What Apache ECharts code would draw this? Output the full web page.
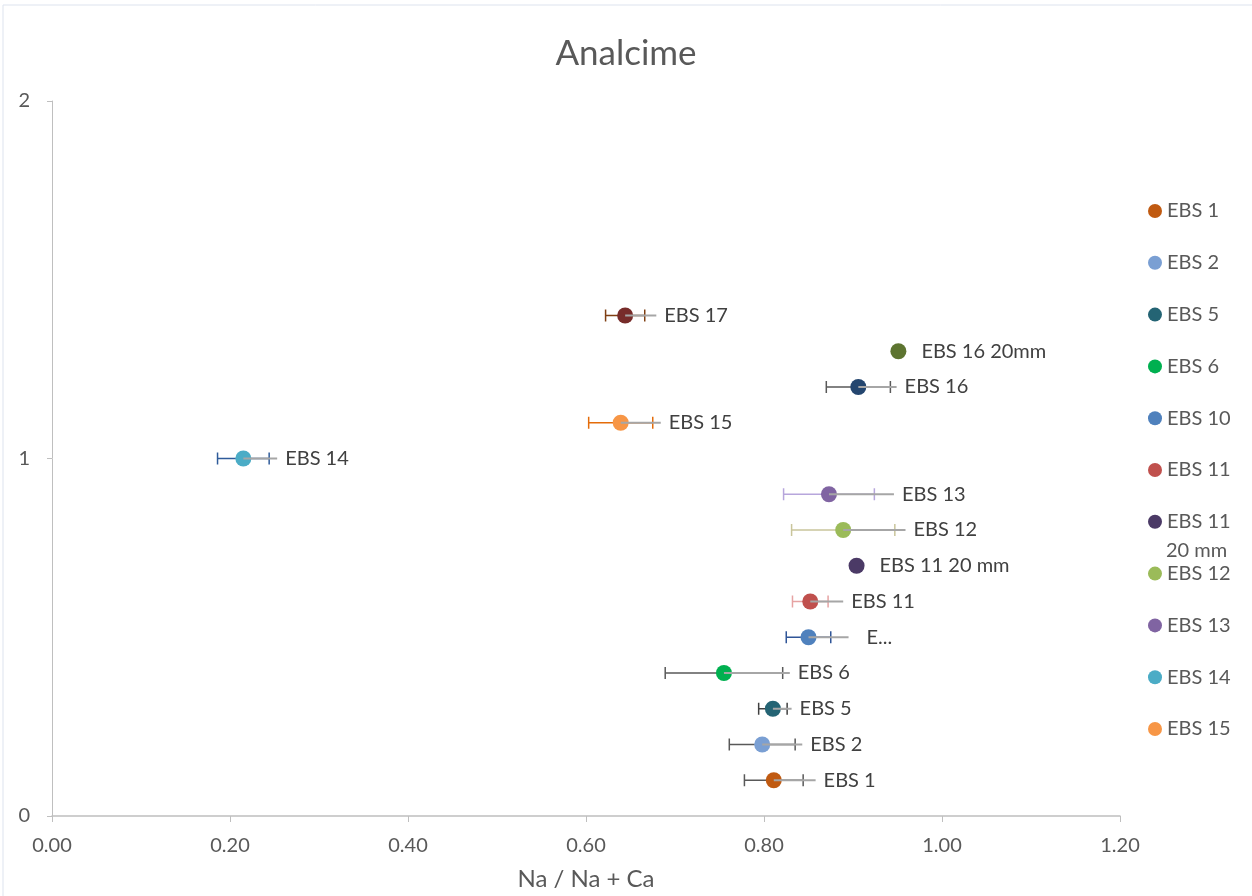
<!DOCTYPE html>
<html>
<head>
<meta charset="utf-8">
<script src="https://cdn.jsdelivr.net/npm/echarts@6/dist/echarts.min.js"></script>
<style>
  html, body { margin: 0; padding: 0; background: #fff; }
  #chart { width: 1252px; height: 896px; }
</style>
</head>
<body>
<div id="chart"></div>
<script>
// sample names, in plotting order (bottom to top)
const names = ['EBS 1', 'EBS 2', 'EBS 5', 'EBS 6', 'EBS 10', 'EBS 11', 'EBS 11 20 mm',
  'EBS 12', 'EBS 13', 'EBS 14', 'EBS 15', 'EBS 16', 'EBS 16 20mm', 'EBS 17'];
const xValues = [0.811, 0.798, 0.810, 0.755, 0.850, 0.852, 0.904, 0.889, 0.873, 0.215, 0.639, 0.906, 0.951, 0.644];
const yValues = [0.1, 0.2, 0.3, 0.4, 0.5, 0.6, 0.7, 0.8, 0.9, 1.0, 1.1, 1.2, 1.3, 1.4];
// symmetric error (coloured bar) and extra plus error (grey bar); 0 = none
const errHalf = [0.033, 0.037, 0.016, 0.066, 0.025, 0.020, 0, 0.058, 0.051, 0.029, 0.036, 0.036, 0, 0.022];
const errPlus = [0.047, 0.045, 0.021, 0.074, 0.045, 0.037, 0, 0.070, 0.073, 0.038, 0.045, 0.043, 0, 0.035];
const xTicks = [0, 0.2, 0.4, 0.6, 0.8, 1.0, 1.2];
const yTicks = [0, 1, 2];
const legendNames = names.slice(0, 11);

const markerColors = ['#c05a11', '#7a9fd3', '#246474', '#00b050', '#4f81bd', '#c0504d', '#4b3a66',
  '#9bbb59', '#8064a2', '#4bacc6', '#f79646', '#24466f', '#5d7430', '#772c2a'];
const barColors = ['#595959', '#595959', '#404040', '#595959', '#2f5597', '#e6a3a3', null,
  '#c9c59b', '#b7a6dc', '#2f5b9a', '#e46c0a', '#595959', null, '#7f3f12'];
const labelText = names.map(n => n === 'EBS 10' ? 'E...' : n);

const FONT = 'Lato, "Liberation Sans", sans-serif';
const chart = echarts.init(document.getElementById('chart'));

const errData = names.map((n, i) => [xValues[i], yValues[i], errHalf[i], errPlus[i], i]);

const scatterSeries = names.map((n, i) => ({
  name: n,
  type: 'scatter',
  symbolSize: 16,
  z: 3,
  itemStyle: { color: markerColors[i], opacity: 1 },
  data: [[xValues[i], yValues[i]]]
}));

const colouredBars = {
  type: 'custom',
  z: 2,
  silent: true,
  encode: { x: 0, y: 1 },
  data: errData,
  renderItem(params, api) {
    const x = api.value(0), y = api.value(1), h = api.value(2);
    const i = api.value(4);
    if (!h) return { type: 'group', children: [] };
    const l = api.coord([x - h, y]);
    const r = api.coord([x + h, y]);
    const st = { stroke: barColors[i], lineWidth: 1.5 };
    return {
      type: 'group',
      children: [
        { type: 'line', shape: { x1: l[0], y1: l[1], x2: r[0], y2: r[1] }, style: st },
        { type: 'line', shape: { x1: l[0], y1: l[1] - 6, x2: l[0], y2: l[1] + 6 }, style: st },
        { type: 'line', shape: { x1: r[0], y1: r[1] - 6, x2: r[0], y2: r[1] + 6 }, style: st }
      ]
    };
  }
};

const greyBars = {
  type: 'custom',
  z: 4,
  silent: true,
  encode: { x: 0, y: 1 },
  data: errData,
  renderItem(params, api) {
    const x = api.value(0), y = api.value(1), p = api.value(3);
    const i = api.value(4);
    const c = api.coord([x, y]);
    const children = [];
    let labelX = c[0] + 23;
    if (p) {
      const e = api.coord([x + p, y]);
      children.push({ type: 'line', shape: { x1: c[0], y1: c[1], x2: e[0], y2: e[1] },
        style: { stroke: '#a6a6a6', lineWidth: 2 } });
      labelX = e[0] + 8;
      if (names[i] === 'EBS 10') labelX = e[0] + 18;
    }
    children.push({ type: 'text', x: labelX, y: c[1],
      style: { text: labelText[i], fill: '#404040', font: '20px ' + FONT,
        verticalAlign: 'middle', align: 'left' } });
    return { type: 'group', children: children };
  }
};

chart.setOption({
  animation: false,
  backgroundColor: '#ffffff',
  textStyle: { fontFamily: FONT },
  title: {
    text: 'Analcime',
    left: 'center',
    top: 31,
    textStyle: { fontFamily: FONT, fontSize: 35, fontWeight: 'normal', color: '#595959' }
  },
  legend: {
    orient: 'vertical',
    left: 1143,
    top: 196,
    icon: 'circle',
    itemWidth: 14,
    itemHeight: 14,
    itemGap: 31.8,
    data: legendNames,
    formatter: n => n === 'EBS 11 20 mm' ? 'EBS 11' : n,
    textStyle: { fontFamily: FONT, fontSize: 20, color: '#595959' }
  },
  graphic: [
    { type: 'text', left: 1166, top: 541,
      style: { text: '20 mm', font: '20px ' + FONT, fill: '#595959' } },
    { type: 'rect', shape: { x: 3, y: 5, width: 1270, height: 900 },
      style: { fill: 'none', stroke: '#dde3ee', lineWidth: 1 }, silent: true }
  ],
  grid: { left: 52, right: 132, top: 101, bottom: 79 },
  xAxis: {
    type: 'value',
    min: xTicks[0],
    max: xTicks[xTicks.length - 1],
    interval: 0.2,
    name: 'Na / Na + Ca',
    nameLocation: 'middle',
    nameGap: 51,
    nameTextStyle: { fontFamily: FONT, fontSize: 24, color: '#595959' },
    axisLine: { lineStyle: { color: '#bfbfbf', width: 1.5 } },
    axisTick: { show: true, length: 6, lineStyle: { color: '#bfbfbf' } },
    axisLabel: { fontFamily: FONT, fontSize: 20, color: '#595959', margin: 20,
      formatter: v => v.toFixed(2) },
    splitLine: { show: false }
  },
  yAxis: {
    type: 'value',
    min: yTicks[0],
    max: yTicks[yTicks.length - 1],
    interval: 1,
    axisLine: { show: true, lineStyle: { color: '#bfbfbf', width: 1 } },
    axisTick: { show: true, length: 5, lineStyle: { color: '#bfbfbf' } },
    axisLabel: { fontFamily: FONT, fontSize: 20, color: '#595959', margin: 22 },
    splitLine: { show: false }
  },
  series: [colouredBars].concat(scatterSeries, [greyBars])
});
</script>
</body>
</html>
